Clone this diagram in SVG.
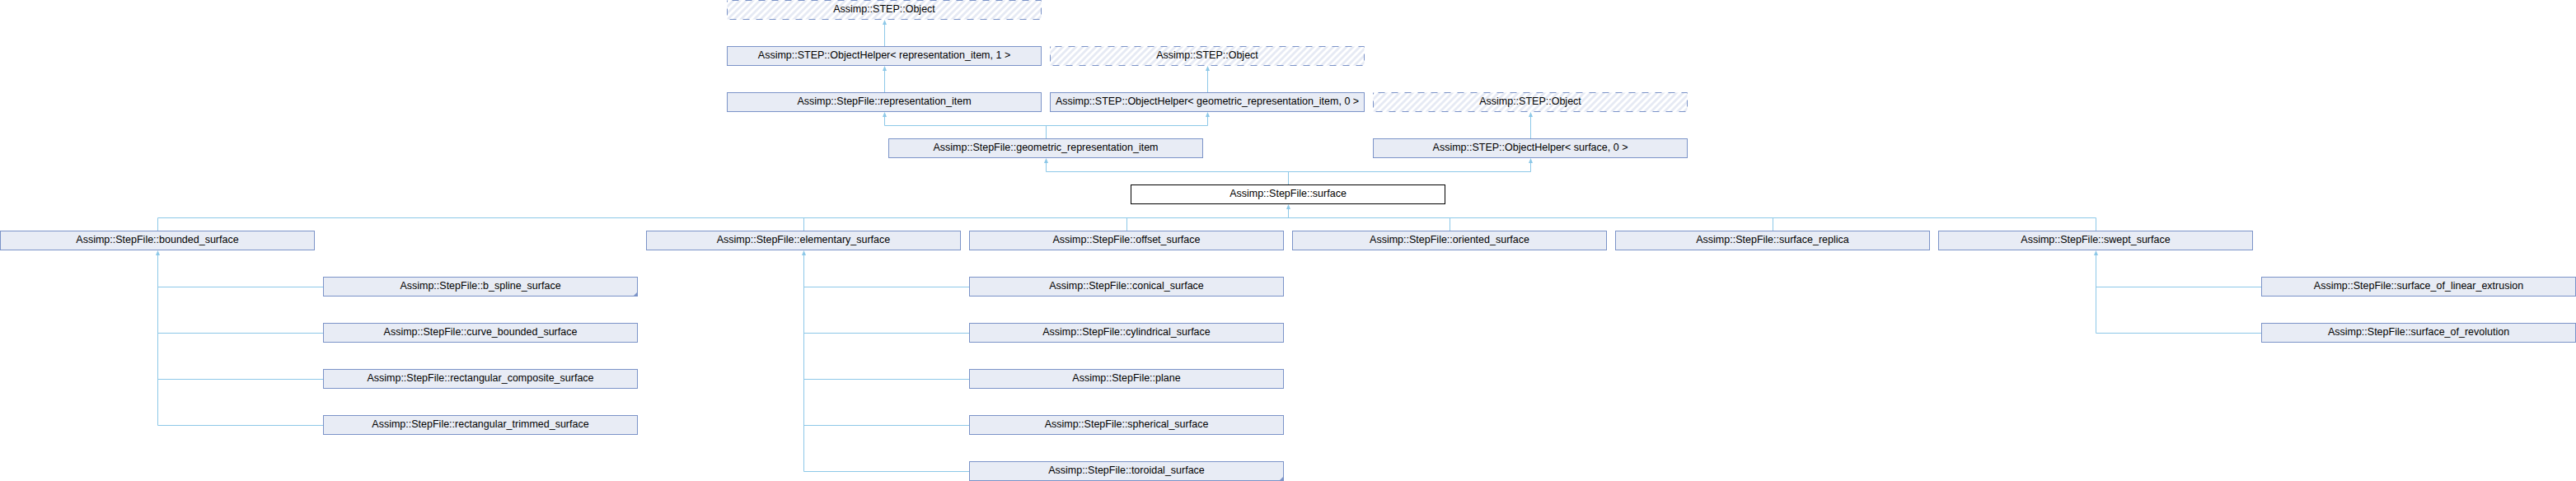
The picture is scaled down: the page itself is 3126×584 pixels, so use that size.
<svg xmlns="http://www.w3.org/2000/svg" width="3126" height="584" viewBox="0 0 3126 584">
<style>
.b{fill:#E8ECF5;stroke:#7B93C8;stroke-width:1}
.h{fill:url(#hatch);stroke:#7B93C8;stroke-width:1;stroke-dasharray:8 8;stroke-dashoffset:10}
.m{fill:#FFFFFF;stroke:#000000;stroke-width:1}
.t{font-family:"Liberation Sans",Arial,sans-serif;font-size:12.5px;fill:#000000;text-anchor:middle}
.c{fill:none;stroke:#8DC8E8;stroke-width:1}
.a{fill:#8DC8E8;stroke:none}
.k{fill:#7B93C8;stroke:none}
</style>
<defs>
<pattern id="hatch" patternUnits="userSpaceOnUse" width="5.66" height="5.66" patternTransform="rotate(45)">
<rect x="0" y="0" width="5.66" height="5.66" fill="#FFFFFF"/>
<rect x="0" y="0" width="2.8" height="5.66" fill="#E6EAF4"/>
</pattern>
</defs>
<rect x="0" y="0" width="3126" height="584" fill="#FFFFFF"/>

<g id="connectors">
<path class="c" d="M1073.5 25V56"/>
<path class="a" d="M1073.5 24L1076 30H1071Z"/>
<path class="c" d="M1073.5 81V112"/>
<path class="a" d="M1073.5 80L1076 86H1071Z"/>
<path class="c" d="M1465.5 81V112"/>
<path class="a" d="M1465.5 80L1468 86H1463Z"/>
<path class="c" d="M1073.5 137V152.5H1465.5V137M1269.5 152.5V168"/>
<path class="a" d="M1073.5 136L1076 142H1071Z"/>
<path class="a" d="M1465.5 136L1468 142H1463Z"/>
<path class="c" d="M1857.5 137V168"/>
<path class="a" d="M1857.5 136L1860 142H1855Z"/>
<path class="c" d="M1269.5 193V208.5H1857.5V193M1563.5 208.5V224"/>
<path class="a" d="M1269.5 192L1272 198H1267Z"/>
<path class="a" d="M1857.5 192L1860 198H1855Z"/>
<path class="c" d="M1563.5 249V264.5M191.5 280V264.5H2543.5V280M975.5 264.5V280M1367.5 264.5V280M1759.5 264.5V280M2151.5 264.5V280"/>
<path class="a" d="M1563.5 248L1566 254H1561Z"/>
<path class="c" d="M191.5 305V516.5M191.5 348.5H392M191.5 404.5H392M191.5 460.5H392M191.5 516.5H392"/>
<path class="a" d="M191.5 304L194 310H189Z"/>
<path class="c" d="M975.5 305V572.5M975.5 348.5H1176M975.5 404.5H1176M975.5 460.5H1176M975.5 516.5H1176M975.5 572.5H1176"/>
<path class="a" d="M975.5 304L978 310H973Z"/>
<path class="c" d="M2543.5 305V404.5M2543.5 348.5H2744M2543.5 404.5H2744"/>
<path class="a" d="M2543.5 304L2546 310H2541Z"/>
</g>

<g id="n_object1"><rect class="h" x="882.5" y="0.5" width="381" height="23"/><text class="t" x="1073" y="15.4">Assimp::STEP::Object</text></g>
<g id="n_oh_rep"><rect class="b" x="882.5" y="56.5" width="381" height="23"/><text class="t" x="1073" y="71.4">Assimp::STEP::ObjectHelper&lt; representation_item, 1 &gt;</text></g>
<g id="n_object2"><rect class="h" x="1274.5" y="56.5" width="381" height="23"/><text class="t" x="1465" y="71.4">Assimp::STEP::Object</text></g>
<g id="n_rep_item"><rect class="b" x="882.5" y="112.5" width="381" height="23"/><text class="t" x="1073" y="127.4">Assimp::StepFile::representation_item</text></g>
<g id="n_oh_geo"><rect class="b" x="1274.5" y="112.5" width="381" height="23"/><text class="t" x="1465" y="127.4">Assimp::STEP::ObjectHelper&lt; geometric_representation_item, 0 &gt;</text></g>
<g id="n_object3"><rect class="h" x="1666.5" y="112.5" width="381" height="23"/><text class="t" x="1857" y="127.4">Assimp::STEP::Object</text></g>
<g id="n_geo_item"><rect class="b" x="1078.5" y="168.5" width="381" height="23"/><text class="t" x="1269" y="183.4">Assimp::StepFile::geometric_representation_item</text></g>
<g id="n_oh_surf"><rect class="b" x="1666.5" y="168.5" width="381" height="23"/><text class="t" x="1857" y="183.4">Assimp::STEP::ObjectHelper&lt; surface, 0 &gt;</text></g>
<g id="n_surface"><rect class="m" x="1372.5" y="224.5" width="381" height="23"/><text class="t" x="1563" y="239.4">Assimp::StepFile::surface</text></g>

<g id="n_bounded"><rect class="b" x="0.5" y="280.5" width="381" height="23"/><text class="t" x="191" y="295.4">Assimp::StepFile::bounded_surface</text></g>
<g id="n_elementary"><rect class="b" x="784.5" y="280.5" width="381" height="23"/><text class="t" x="975" y="295.4">Assimp::StepFile::elementary_surface</text></g>
<g id="n_offset"><rect class="b" x="1176.5" y="280.5" width="381" height="23"/><text class="t" x="1367" y="295.4">Assimp::StepFile::offset_surface</text></g>
<g id="n_oriented"><rect class="b" x="1568.5" y="280.5" width="381" height="23"/><text class="t" x="1759" y="295.4">Assimp::StepFile::oriented_surface</text></g>
<g id="n_replica"><rect class="b" x="1960.5" y="280.5" width="381" height="23"/><text class="t" x="2151" y="295.4">Assimp::StepFile::surface_replica</text></g>
<g id="n_swept"><rect class="b" x="2352.5" y="280.5" width="381" height="23"/><text class="t" x="2543" y="295.4">Assimp::StepFile::swept_surface</text></g>

<g id="n_bspline"><rect class="b" x="392.5" y="336.5" width="381" height="23"/><path class="k" d="M768 360L774 354V360Z"/><text class="t" x="583" y="351.4">Assimp::StepFile::b_spline_surface</text></g>
<g id="n_curve_bounded"><rect class="b" x="392.5" y="392.5" width="381" height="23"/><text class="t" x="583" y="407.4">Assimp::StepFile::curve_bounded_surface</text></g>
<g id="n_rect_composite"><rect class="b" x="392.5" y="448.5" width="381" height="23"/><text class="t" x="583" y="463.4">Assimp::StepFile::rectangular_composite_surface</text></g>
<g id="n_rect_trimmed"><rect class="b" x="392.5" y="504.5" width="381" height="23"/><text class="t" x="583" y="519.4">Assimp::StepFile::rectangular_trimmed_surface</text></g>

<g id="n_conical"><rect class="b" x="1176.5" y="336.5" width="381" height="23"/><text class="t" x="1367" y="351.4">Assimp::StepFile::conical_surface</text></g>
<g id="n_cylindrical"><rect class="b" x="1176.5" y="392.5" width="381" height="23"/><text class="t" x="1367" y="407.4">Assimp::StepFile::cylindrical_surface</text></g>
<g id="n_plane"><rect class="b" x="1176.5" y="448.5" width="381" height="23"/><text class="t" x="1367" y="463.4">Assimp::StepFile::plane</text></g>
<g id="n_spherical"><rect class="b" x="1176.5" y="504.5" width="381" height="23"/><text class="t" x="1367" y="519.4">Assimp::StepFile::spherical_surface</text></g>
<g id="n_toroidal"><rect class="b" x="1176.5" y="560.5" width="381" height="23"/><path class="k" d="M1552 584L1558 578V584Z"/><text class="t" x="1367" y="575.4">Assimp::StepFile::toroidal_surface</text></g>

<g id="n_linear_extrusion"><rect class="b" x="2744.5" y="336.5" width="381" height="23"/><text class="t" x="2935" y="351.4">Assimp::StepFile::surface_of_linear_extrusion</text></g>
<g id="n_revolution"><rect class="b" x="2744.5" y="392.5" width="381" height="23"/><text class="t" x="2935" y="407.4">Assimp::StepFile::surface_of_revolution</text></g>
</svg>
